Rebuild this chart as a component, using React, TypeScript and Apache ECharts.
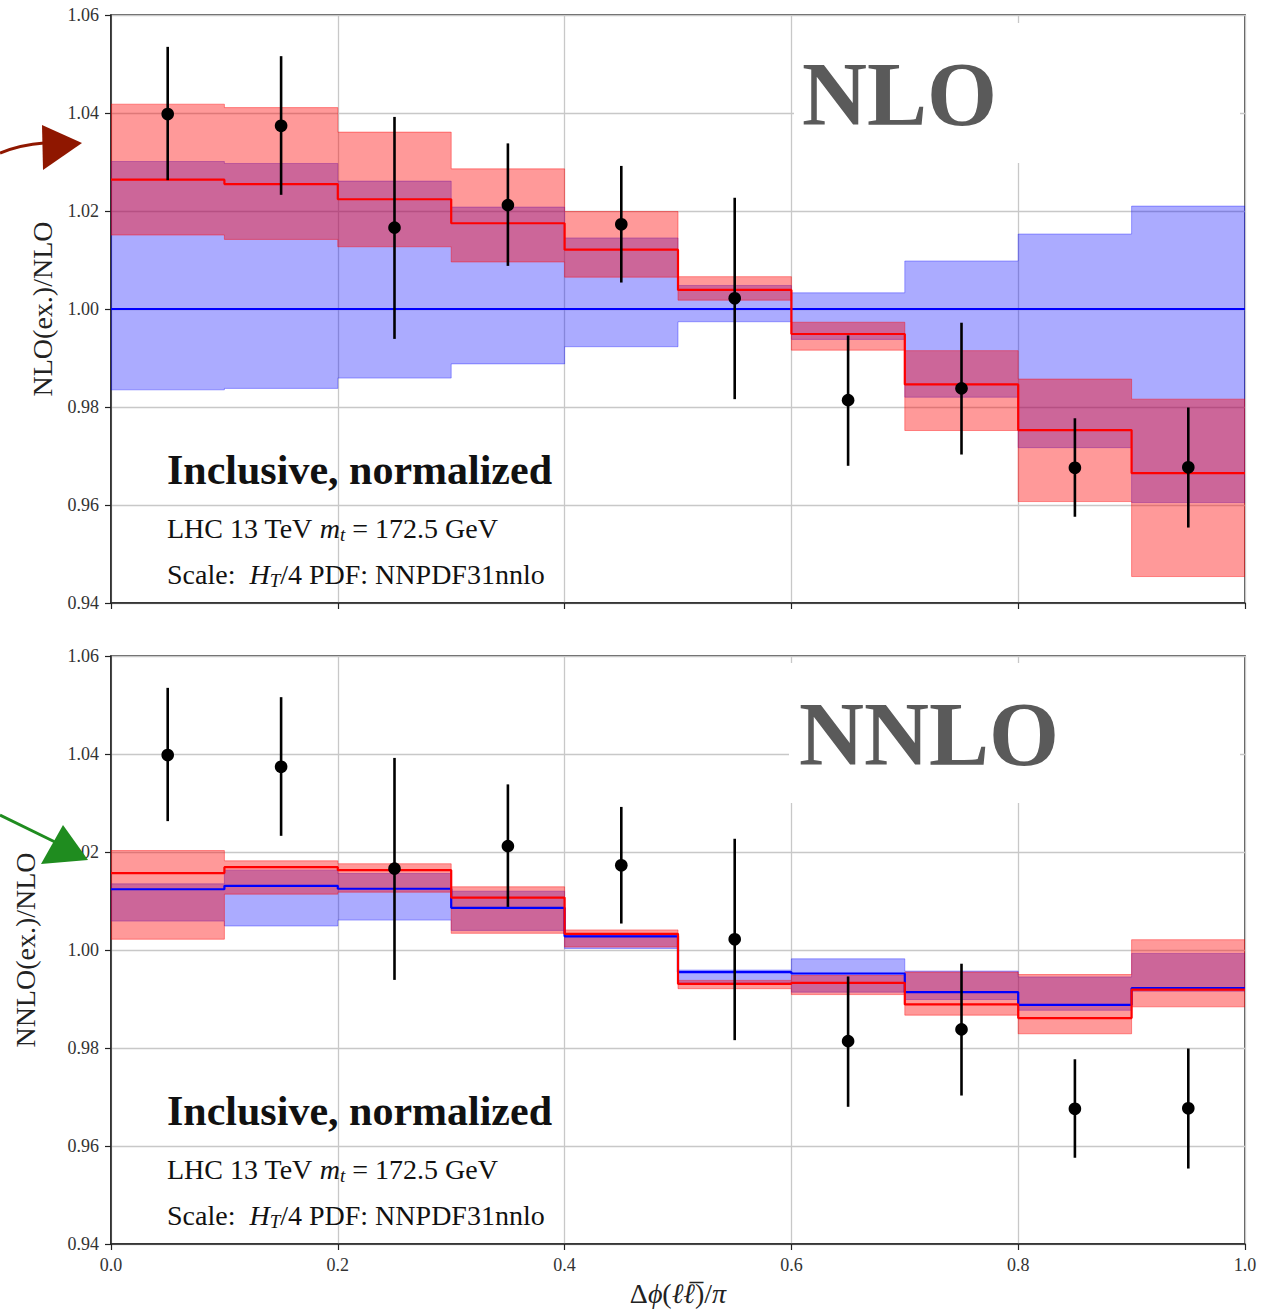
import React, { useEffect, useRef } from "react";
import * as echarts from "echarts";

// bin edges of Δφ(ℓℓ̄)/π
const binEdges = [0, 0.1, 0.2, 0.3, 0.4, 0.5, 0.6, 0.7, 0.8, 0.9, 1.0];
const binCenters = [0.05, 0.15, 0.25, 0.35, 0.45, 0.55, 0.65, 0.75, 0.85, 0.95];

// data points (same in both panels)
const dataVal = [1.0398, 1.0374, 1.0166, 1.0212, 1.0173, 1.0022, 0.9814, 0.9838, 0.9676, 0.9677];
const dataHi = [1.0535, 1.0516, 1.0392, 1.0338, 1.0292, 1.0227, 0.9946, 0.9972, 0.9777, 0.9799];
const dataLo = [1.0263, 1.0233, 0.9939, 1.0088, 1.0054, 0.9816, 0.968, 0.9703, 0.9576, 0.9554];

// top panel: NLO(ex.) (red) and NLO (blue)
const nloExCentral = [1.0264, 1.0255, 1.0224, 1.0175, 1.0121, 1.0039, 0.9949, 0.9846, 0.9753, 0.9665];
const nloExHi = [1.0418, 1.0411, 1.0361, 1.0286, 1.0199, 1.0066, 0.9973, 0.9915, 0.9857, 0.9816];
const nloExLo = [1.0151, 1.0142, 1.0127, 1.0096, 1.0065, 1.0018, 0.9916, 0.9752, 0.9607, 0.9454];
const nloCentral = [1.0, 1.0, 1.0, 1.0, 1.0, 1.0, 1.0, 1.0, 1.0, 1.0];
const nloHi = [1.0301, 1.0297, 1.0261, 1.0208, 1.0145, 1.0048, 1.0033, 1.0098, 1.0153, 1.021];
const nloLo = [0.9835, 0.9838, 0.9859, 0.9888, 0.9923, 0.9974, 0.9938, 0.982, 0.9717, 0.9605];

// bottom panel: NNLO(ex.) (red) and NNLO (blue)
const nnloExCentral = [1.0157, 1.0169, 1.0163, 1.0107, 1.0033, 0.9931, 0.9933, 0.9889, 0.9861, 0.9919];
const nnloExHi = [1.0203, 1.0182, 1.0176, 1.0129, 1.0041, 0.9938, 0.9948, 0.9955, 0.995, 1.0021];
const nnloExLo = [1.0022, 1.0114, 1.0118, 1.0034, 1.0006, 0.9921, 0.9909, 0.9867, 0.9829, 0.9884];
const nnloCentral = [1.0124, 1.0131, 1.0125, 1.0086, 1.0028, 0.9955, 0.9952, 0.9914, 0.9888, 0.9922];
const nnloHi = [1.0135, 1.0163, 1.0156, 1.012, 1.0031, 0.9959, 0.9982, 0.9957, 0.9945, 0.9993];
const nnloLo = [1.0059, 1.0049, 1.0061, 1.004, 1.0003, 0.9933, 0.9914, 0.9899, 0.9877, 0.9916];

const SERIF = "'Liberation Serif', 'DejaVu Serif', serif";
const RED_FILL = "rgba(255,0,0,0.4)";
const BLUE_FILL = "rgba(0,0,255,0.33)";

function stepData(vals: number[]) {
  const d: number[][] = vals.map((v, i) => [binEdges[i], v]);
  d.push([binEdges[binEdges.length - 1], vals[vals.length - 1]]);
  return d;
}

function bandSeries(lo: number[], hi: number[], color: string, idx: number) {
  return {
    type: "custom",
    xAxisIndex: idx,
    yAxisIndex: idx,
    clip: true,
    data: [[0, lo[0]]],
    renderItem: (params: any, api: any) => {
      const pts: number[][] = [];
      for (let i = 0; i < hi.length; i++) {
        pts.push(api.coord([binEdges[i], hi[i]]));
        pts.push(api.coord([binEdges[i + 1], hi[i]]));
      }
      for (let i = lo.length - 1; i >= 0; i--) {
        pts.push(api.coord([binEdges[i + 1], lo[i]]));
        pts.push(api.coord([binEdges[i], lo[i]]));
      }
      return {
        type: "polygon",
        shape: { points: pts },
        style: { fill: color, stroke: color, lineWidth: 1 },
      };
    },
    z: 2,
  };
}

function lineSeries(vals: number[], color: string, idx: number) {
  return {
    type: "line",
    xAxisIndex: idx,
    yAxisIndex: idx,
    step: "end",
    data: stepData(vals),
    symbol: "none",
    lineStyle: { color, width: 2.2 },
    z: 3,
  };
}

function errorSeries(idx: number) {
  return {
    type: "custom",
    xAxisIndex: idx,
    yAxisIndex: idx,
    data: binCenters.map((x, i) => [x, dataVal[i], dataLo[i], dataHi[i]]),
    encode: { x: 0, y: [1, 2, 3] },
    renderItem: (params: any, api: any) => {
      const x = api.value(0);
      const pV = api.coord([x, api.value(1)]);
      const pL = api.coord([x, api.value(2)]);
      const pH = api.coord([x, api.value(3)]);
      return {
        type: "group",
        children: [
          {
            type: "line",
            shape: { x1: pL[0], y1: pL[1], x2: pH[0], y2: pH[1] },
            style: { stroke: "#000", lineWidth: 2.6 },
          },
          { type: "circle", shape: { cx: pV[0], cy: pV[1], r: 6.3 }, style: { fill: "#000" } },
        ],
      };
    },
    z: 5,
  };
}

function infoTexts(dy: number) {
  const rich = {
    r: { fontFamily: SERIF, fontSize: 28, fill: "#111" },
    i: { fontFamily: SERIF, fontSize: 28, fontStyle: "italic", fill: "#111" },
    s: { fontFamily: SERIF, fontSize: 19, fontStyle: "italic", fill: "#111", padding: [12, 0, 0, 0] },
  };
  return [
    {
      type: "text",
      x: 167,
      y: 470 + dy,
      z: 20,
      style: {
        text: "Inclusive, normalized",
        font: `bold 42px ${SERIF}`,
        fill: "#111",
        verticalAlign: "middle",
      },
    },
    {
      type: "text",
      x: 167,
      y: 528 + dy,
      z: 20,
      style: {
        text: "{r|LHC 13 TeV }{i|m}{s|t}{r| = 172.5 GeV}",
        verticalAlign: "middle",
        fill: "#111",
        rich,
      },
    },
    {
      type: "text",
      x: 167,
      y: 574 + dy,
      z: 20,
      style: {
        text: "{r|Scale:  }{i|H}{s|T}{r|/4 PDF: NNPDF31nnlo}",
        verticalAlign: "middle",
        fill: "#111",
        rich,
      },
    },
  ];
}

export default function App() {
  const ref = useRef<HTMLDivElement>(null);

  useEffect(() => {
    if (!ref.current) return;
    const chart = echarts.init(ref.current, undefined, { renderer: "svg" });

    const yAxisBase = (gridIndex: number) => ({
      type: "value",
      gridIndex,
      min: 0.94,
      max: 1.06,
      interval: 0.02,
      axisLine: { show: true, lineStyle: { color: "#222", width: 1.5 } },
      axisTick: { show: true, inside: false, length: 6, lineStyle: { color: "#222", width: 1.2 } },
      axisLabel: {
        formatter: (v: number) => v.toFixed(2),
        fontFamily: SERIF,
        fontSize: 18,
        color: "#333",
        margin: 12,
      },
      splitLine: { show: true, lineStyle: { color: "#c8c8c8", width: 1.3 } },
    });

    const xAxisBase = (gridIndex: number, showLabels: boolean) => ({
      type: "value",
      gridIndex,
      min: 0,
      max: 1,
      interval: 0.2,
      axisLine: { show: true, onZero: false, lineStyle: { color: "#222", width: 1.5 } },
      axisTick: { show: true, inside: false, length: 6, lineStyle: { color: "#222", width: 1.2 } },
      axisLabel: {
        show: showLabels,
        formatter: (v: number) => v.toFixed(1),
        fontFamily: SERIF,
        fontSize: 18,
        color: "#333",
        margin: 12,
        showMaxLabel: true,
        showMinLabel: true,
      },
      splitLine: { show: true, lineStyle: { color: "#c8c8c8", width: 1.3 } },
    });

    const option: any = {
      animation: false,
      backgroundColor: "#ffffff",
      grid: [
        { left: 111, top: 15, width: 1134, height: 588, show: true, borderColor: "#222", borderWidth: 1.5, backgroundColor: "transparent" },
        { left: 111, top: 656, width: 1134, height: 588, show: true, borderColor: "#222", borderWidth: 1.5, backgroundColor: "transparent" },
      ],
      xAxis: [xAxisBase(0, false), xAxisBase(1, true)],
      yAxis: [yAxisBase(0), yAxisBase(1)],
      series: [
        bandSeries(nloLo, nloHi, BLUE_FILL, 0),
        bandSeries(nloExLo, nloExHi, RED_FILL, 0),
        lineSeries(nloCentral, "#0000ff", 0),
        lineSeries(nloExCentral, "#ff0000", 0),
        errorSeries(0),
        bandSeries(nnloLo, nnloHi, BLUE_FILL, 1),
        bandSeries(nnloExLo, nnloExHi, RED_FILL, 1),
        lineSeries(nnloCentral, "#0000ff", 1),
        lineSeries(nnloExCentral, "#ff0000", 1),
        errorSeries(1),
      ],
      graphic: [
        // white boxes behind the big labels
        { type: "rect", z: 15, shape: { x: 794, y: 23, width: 446, height: 140 }, style: { fill: "#ffffff" } },
        { type: "rect", z: 15, shape: { x: 789, y: 663, width: 451, height: 140 }, style: { fill: "#ffffff" } },
        {
          type: "text",
          x: 802,
          y: 94,
          z: 20,
          style: { text: "NLO", font: `bold 90px ${SERIF}`, fill: "#5a5a5a", verticalAlign: "middle" },
        },
        {
          type: "text",
          x: 799,
          y: 734,
          z: 20,
          style: { text: "NNLO", font: `bold 90px ${SERIF}`, fill: "#5a5a5a", verticalAlign: "middle" },
        },
        ...infoTexts(0),
        ...infoTexts(641),
        // axis titles
        {
          type: "text",
          x: 42,
          y: 309,
          rotation: Math.PI / 2,
          z: 20,
          style: { text: "NLO(ex.)/NLO", font: `28px ${SERIF}`, fill: "#222", align: "center", verticalAlign: "middle" },
        },
        {
          type: "text",
          x: 25,
          y: 950,
          rotation: Math.PI / 2,
          z: 20,
          style: { text: "NNLO(ex.)/NLO", font: `28px ${SERIF}`, fill: "#222", align: "center", verticalAlign: "middle" },
        },
        {
          type: "text",
          x: 678,
          y: 1293,
          z: 20,
          style: {
            text: "{a|Δ}{b|ϕ}{a|(}{b|ℓℓ\u0305}{a|)/}{b|π}",
            align: "center",
            verticalAlign: "middle",
            rich: {
              a: { fontFamily: SERIF, fontSize: 28, fill: "#222" },
              b: { fontFamily: SERIF, fontSize: 28, fontStyle: "italic", fill: "#222" },
            },
          },
        },
        // hand-drawn arrows
        {
          type: "bezierCurve",
          z: 25,
          shape: { x1: 0, y1: 153, x2: 44, y2: 143, cpx1: 15, cpy1: 147, cpx2: 30, cpy2: 144 },
          style: { stroke: "#8f1700", lineWidth: 3, fill: "none" },
        },
        {
          type: "polygon",
          z: 25,
          shape: { points: [[42, 125], [43, 170], [82, 143]] },
          style: { fill: "#8f1700" },
        },
        {
          type: "line",
          z: 25,
          shape: { x1: 0, y1: 815, x2: 55, y2: 842 },
          style: { stroke: "#1f8c1f", lineWidth: 3 },
        },
        {
          type: "polygon",
          z: 25,
          shape: { points: [[63, 825], [41, 864], [88, 860]] },
          style: { fill: "#1f8c1f" },
        },
      ],
    };

    chart.setOption(option);
    return () => chart.dispose();
  }, []);

  return (
    <div
      ref={ref}
      style={{ position: "absolute", left: 0, top: 0, width: 1274, height: 1309, background: "#fff" }}
    />
  );
}
